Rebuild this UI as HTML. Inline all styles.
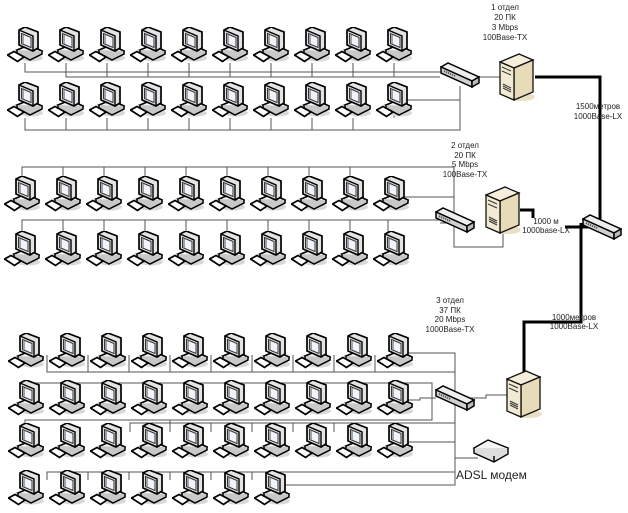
<!DOCTYPE html>
<html><head><meta charset="utf-8"><style>
html,body{margin:0;padding:0;background:#fff}
svg{display:block}
text{font-family:"Liberation Sans",sans-serif;fill:#222}
</style></head><body>
<svg width="628" height="513" viewBox="0 0 628 513" xmlns="http://www.w3.org/2000/svg">
<defs>
<symbol id="pc" viewBox="0 0 36 36" width="36" height="36">
<ellipse cx="24" cy="31" rx="12" ry="3.5" fill="#d8d8d8"/>
<path d="M10 23 L22 18 L35 24 L23 30 Z" fill="#f4f4f4" stroke="#000" stroke-width="1.7"/>
<path d="M10 23 L10 26 L23 33 L35 27 L35 24" fill="#c8c8c8" stroke="#000" stroke-width="1.5"/>
<path d="M12 3 L18 0 L31 5 L31 21 L26 24 L12 18 Z" fill="#e4e4e4" stroke="#000" stroke-width="1.7"/>
<path d="M12 3 L26 9 L26 24" fill="none" stroke="#000" stroke-width="1.4"/>
<path d="M14.5 6.5 L24 10.5 L24 20.5 L14.5 16.5 Z" fill="#f0f3fa" stroke="#333" stroke-width="1"/>
<path d="M16 8 L16 17" stroke="#888" stroke-width="1.5"/>
<path d="M0.5 28 L7 24.5 L17 30 L10.5 34.5 Z" fill="#fff" stroke="#000" stroke-width="1.7"/>
</symbol>
<symbol id="srv" viewBox="0 0 36 50" width="36" height="50">
<ellipse cx="22" cy="45" rx="14" ry="4" fill="#e9dfc4"/>
<path d="M1 10 L20 2 L34 8 L15 16 Z" fill="#f6eedb" stroke="#111" stroke-width="1.3"/>
<path d="M15 16 L34 8 L34 40 L15 48 Z" fill="#e8dcb8" stroke="#111" stroke-width="1.3"/>
<path d="M1 10 L15 16 L15 48 L1 42 Z" fill="#f2ead2" stroke="#111" stroke-width="1.3"/>
<path d="M3 15 L12 19 M3 19 L12 23 M4 32 L12 36 M4 34 L12 38 M4 36 L12 40" stroke="#333" stroke-width="1"/>
</symbol>
<symbol id="sw" viewBox="0 0 40 28" width="40" height="28">
<path d="M1 6 L8 2 L39 16 L32 20 Z" fill="#eee" stroke="#000" stroke-width="1.5"/>
<path d="M1 6 L1 12 L32 26 L32 20 Z" fill="#d0d0d0" stroke="#000" stroke-width="1.5"/>
<path d="M32 20 L39 16 L39 22 L32 26 Z" fill="#bbb" stroke="#000" stroke-width="1.5"/>
<path d="M4 10 L15 15" stroke="#556" stroke-width="2" stroke-dasharray="1.2 1"/>
</symbol>
</defs>

<g fill="none" stroke="#555" stroke-width="1">
<path d="M25 63 V72 H440 M66 63 V77 H440"/>
<path d="M107 63 V77 M148 63 V77 M189 63 V77 M230 63 V77 M271 63 V77 M312 63 V77 M353 63 V77 M394 63 V77"/>
<path d="M25 118 V130 H460 V86 M66 118 V130 M107 118 V130 M148 118 V130 M189 118 V130 M230 118 V130 M271 118 V130 M312 118 V130 M353 118 V130 M394 100 H460 M394 100 V118"/>
<path d="M470 77 H525"/>
<path d="M22 178 V167 H454 V247 H503 V215 M63 178 V167 M104 178 V167 M145 178 V167 M186 178 V167 M227 178 V167 M268 178 V167 M309 178 V167 M350 178 V167 M400 197 H454"/>
<path d="M22 232 V220 H454 M63 232 V220 M104 232 V220 M145 232 V220 M186 232 V220 M227 232 V220 M268 232 V220 M309 232 V220 M350 232 V220 M388 232 V220"/>
<path d="M440 223 H454"/>
<path d="M405 353 H455 V485 H285"/>
<path d="M47 355 V372 H455 M88 355 V372 M129 355 V372 M170 355 V372 M211 355 V372 M252 355 V372 M293 355 V372 M334 355 V372 M375 355 V372"/>
<path d="M25 392 V383 H432 V420 H25 V432 M66 392 V383 M107 392 V383 M148 392 V383 M189 392 V383 M230 392 V383 M271 392 V383 M312 392 V383 M353 392 V383 M405 400 H420 V398 H436"/>
<path d="M130 432 V423 H455 M170 432 V420 M211 432 V423 M252 432 V423 M293 432 V423 M334 432 V423 M405 442 H455"/>
<path d="M47 480 V472 H455 M88 480 V472 M129 480 V472 M170 480 V472 M211 480 V472 M252 480 V472"/>
<path d="M455 458 H478"/>
<path d="M470 398 H486 V395 H525"/>
</g>

<g fill="none" stroke="#000" stroke-width="3">
<path d="M535 77 H600 V224"/>
<path d="M520 210 H533 V218"/>
<path d="M565 227 H592"/>
<path d="M581 223 V322 H524 V372"/>
</g>

<g id="r1">
<use href="#pc" x="7" y="27"/><use href="#pc" x="48" y="27"/><use href="#pc" x="89" y="27"/><use href="#pc" x="130" y="27"/><use href="#pc" x="171" y="27"/><use href="#pc" x="212" y="27"/><use href="#pc" x="253" y="27"/><use href="#pc" x="294" y="27"/><use href="#pc" x="335" y="27"/><use href="#pc" x="376" y="27"/>
</g>
<use href="#r1" y="55"/>
<use href="#r1" x="-3" y="149"/>
<use href="#r1" x="-3" y="204"/>
<use href="#r1" x="1" y="306"/>
<use href="#r1" x="1" y="353"/>
<use href="#r1" x="1" y="396"/>
<g>
<use href="#pc" x="8" y="470"/><use href="#pc" x="49" y="470"/><use href="#pc" x="90" y="470"/><use href="#pc" x="131" y="470"/><use href="#pc" x="172" y="470"/><use href="#pc" x="213" y="470"/><use href="#pc" x="254" y="470"/>
</g>

<use href="#sw" x="440" y="61"/>
<use href="#sw" x="435" y="206"/>
<use href="#sw" x="435" y="384"/>
<use href="#sw" x="582" y="213"/>
<use href="#srv" x="499" y="52"/>
<use href="#srv" x="485" y="185"/>
<use href="#srv" x="506" y="369"/>
<path d="M474 448 L488 440 L508 448 L494 456 Z" fill="#f4f4f4" stroke="#000" stroke-width="1.4"/>
<path d="M474 448 L474 453 L494 462 L508 454 L508 448 M494 456 V462" fill="#ddd" stroke="#000" stroke-width="1.4"/>

<g font-size="8" text-anchor="middle">
<text x="505" y="10">1 отдел</text><text x="505" y="20">20 ПК</text><text x="505" y="30">3 Mbps</text><text x="505" y="40">100Base-TX</text>
<text x="598" y="109">1500метров</text><text x="598" y="119">1000Base-LX</text>
<text x="465" y="148">2 отдел</text><text x="465" y="158">20 ПК</text><text x="465" y="167">5 Mbps</text><text x="465" y="177">100Base-TX</text>
<text x="546" y="224">1000 м</text><text x="546" y="233">1000base-LX</text>
<text x="450" y="303">3 отдел</text><text x="450" y="313">37 ПК</text><text x="450" y="322">20 Mbps</text><text x="450" y="332">1000Base-TX</text>
<text x="574" y="320">1000метров</text><text x="574" y="329">1000Base-LX</text>
</g>
<text x="456" y="479" font-size="12">ADSL модем</text>
</svg>
</body></html>
